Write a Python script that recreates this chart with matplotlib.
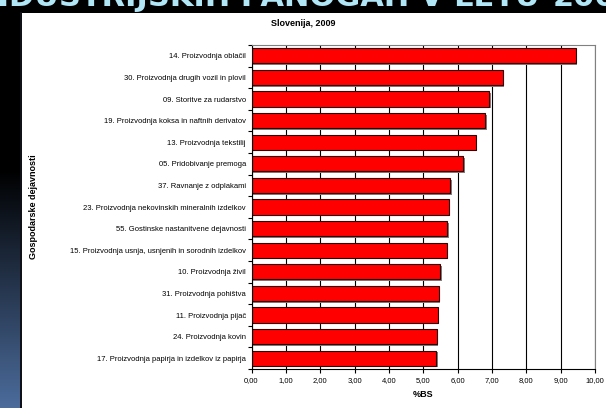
import matplotlib

matplotlib.use("Agg", force=True)
import matplotlib.pyplot as plt
import matplotlib.patheffects as pe
import numpy as np
from matplotlib.patches import Rectangle

plt.rcParams["font.family"] = ["Liberation Sans", "DejaVu Sans"]

categories = [
    "14. Proizvodnja oblačil",
    "30. Proizvodnja drugih vozil in plovil",
    "09. Storitve za rudarstvo",
    "19. Proizvodnja koksa in naftnih derivatov",
    "13. Proizvodnja tekstilij",
    "05. Pridobivanje premoga",
    "37. Ravnanje z odplakami",
    "23. Proizvodnja nekovinskih mineralnih izdelkov",
    "55. Gostinske nastanitvene dejavnosti",
    "15. Proizvodnja usnja, usnjenih in sorodnih izdelkov",
    "10. Proizvodnja živil",
    "31. Proizvodnja pohištva",
    "11. Proizvodnja pijač",
    "24. Proizvodnja kovin",
    "17. Proizvodnja papirja in izdelkov iz papirja",
]
values = [9.44, 7.31, 6.92, 6.80, 6.53, 6.17, 5.78, 5.74, 5.70, 5.68, 5.49, 5.45, 5.42, 5.39, 5.37]
xticks = np.arange(0, 11, 1)
xtick_labels = [f"{v:.2f}".replace(".", ",") for v in xticks]

W, H = 606, 408
fig = plt.figure(figsize=(W / 100, H / 100), dpi=100)
fig.patch.set_facecolor("white")

# slide background: black top band, dark-to-blue strip on the left
bg = fig.add_axes([0, 0, 1, 1], zorder=-5)
bg.axis("off")
bg.add_patch(Rectangle((0, 0), W, 13, facecolor="black", edgecolor="none"))
grad = np.concatenate([np.zeros(170), np.linspace(0, 1, H - 170)])
c0 = np.array([0.0, 0.0, 0.0])
c1 = np.array([0x4c, 0x6c, 0x9c]) / 255
img = (c0[None, :] * (1 - grad[:, None]) + c1[None, :] * grad[:, None])[:, None, :]
bg.imshow(img, extent=(0, 19.5, H, 0), aspect="auto", zorder=1)
bg.add_patch(Rectangle((19.5, 12), 2, H, facecolor="#101018", edgecolor="none", zorder=2))
bg.set_xlim(0, W)
bg.set_ylim(H, 0)

# slide heading, mostly cut off at the top edge
head_y = 1 - 5.5 / H
fig.text(540 / W, head_y, "V INDUSTRIJSKIH PANOGAH V LETU", color="#b0e6f6",
         fontsize=22, fontweight="bold", ha="right", va="baseline", family="DejaVu Sans")
fig.text(553 / W, head_y, "2009", color="#b0e6f6",
         fontsize=22, fontweight="bold", ha="left", va="baseline", family="DejaVu Sans")

ax = fig.add_axes([251.5 / W, 1 - 369 / H, (595 - 251.5) / W, (369 - 45) / H])
y = np.arange(len(categories))
ax.set_axisbelow(True)
ax.xaxis.grid(True, color="black", linewidth=0.8)
ax.barh(y, values, height=0.7, color="#ff0000", edgecolor="#300000", linewidth=0.8,
        path_effects=[pe.SimplePatchShadow(offset=(1.2, -1.2), shadow_rgbFace="#808080", alpha=1.0), pe.Normal()])
ax.set_ylim(len(categories) - 0.5, -0.5)
ax.set_xlim(0, 10)
ax.set_yticks(y)
ax.set_yticklabels(categories, fontsize=5.5)
ax.set_yticks(np.arange(len(categories) + 1) - 0.5, minor=True)
ax.tick_params(axis="y", which="major", length=0, pad=4)
ax.tick_params(axis="y", which="minor", length=3, width=0.8, color="black")
ax.set_xticks(xticks)
ax.set_xticklabels(xtick_labels, fontsize=5.5)
ax.tick_params(axis="x", length=3, width=0.8, color="black", pad=3)
for side in ["top", "right"]:
    ax.spines[side].set_color("#808080")
    ax.spines[side].set_linewidth(0.8)
for side in ["left", "bottom"]:
    ax.spines[side].set_color("black")
    ax.spines[side].set_linewidth(0.8)
ax.set_xlabel("%BS", fontsize=6.5, fontweight="bold", labelpad=4)

fig.text(303 / W, 1 - 23 / H, "Slovenija, 2009", fontsize=6.5, fontweight="bold", ha="center", va="center")
fig.text(33 / W, 1 - 207 / H, "Gospodarske dejavnosti", fontsize=6.5, fontweight="bold",
         rotation=90, ha="center", va="center")

fig.savefig("out.png", dpi=100)
